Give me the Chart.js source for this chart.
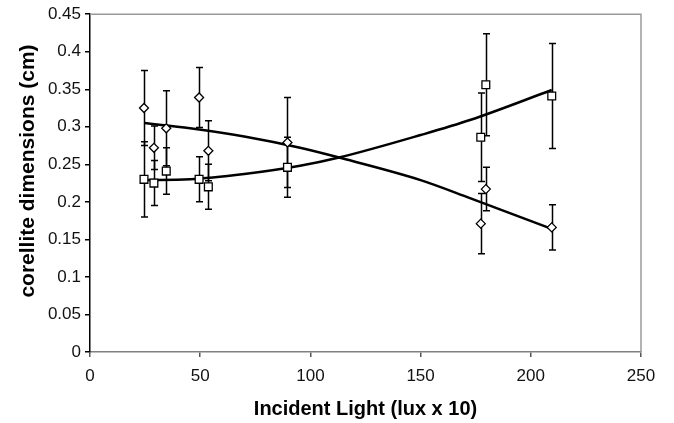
<!DOCTYPE html>
<html>
<head>
<meta charset="utf-8">
<script src="https://cdn.jsdelivr.net/npm/chart.js@4"></script>
<style>
	html, body { margin: 0; background: #fff; }
	#wrap { width: 674px; height: 423px; }
</style>
</head>
<body>
<div id="wrap"><canvas id="chart"></canvas></div>
<script>
// Corellite dimensions against incident light, two measured series with
// error bars plus a fitted trendline for each (values read off the figure).

const lightX = [24.5, 29, 34.6, 49.5, 53.7, 89.6, 177.3, 179.6, 209.5];

const diamondY = [0.325, 0.272, 0.298, 0.339, 0.268, 0.279, 0.171, 0.217, 0.166];
const diamondErr = [0.05, 0.029, 0.05, 0.04, 0.04, 0.06, 0.04, 0.029, 0.03];

const squareY = [0.230, 0.225, 0.241, 0.230, 0.220, 0.246, 0.286, 0.356, 0.341];
const squareErr = [0.05, 0.03, 0.031, 0.03, 0.03, 0.04, 0.059, 0.068, 0.07];

// Trendlines as drawn in the figure, sampled along their length.
const trendX = [24.5, 45.4, 70, 95.3, 113, 150, 172.4, 209.5];
const trendDown = [0.305, 0.298, 0.287, 0.272, 0.259, 0.229, 0.205, 0.164];
const trendUp = [0.229, 0.230, 0.237, 0.248, 0.259, 0.289, 0.309, 0.349];

const xTickLabels = ['0', '50', '100', '150', '200', '250'];
const yTickLabels = ['0', '0.05', '0.1', '0.15', '0.2', '0.25', '0.3', '0.35', '0.4', '0.45'];

const xTitle = 'Incident Light (lux x 10)';
const yTitle = 'corellite dimensions (cm)';

const FONT = "'Liberation Sans', Arial, sans-serif";

const toPoints = (xs, ys) => xs.map((x, i) => ({ x, y: ys[i] }));

// Vertical error bars with caps, drawn under the markers.
const errorBars = {
	id: 'errorBars',
	beforeDatasetsDraw(chart) {
		const { ctx, scales } = chart;
		ctx.save();
		ctx.strokeStyle = '#000';
		ctx.lineWidth = 1.5;
		for (const ds of chart.data.datasets) {
			if (!ds.errors) {
				continue;
			}
			ds.data.forEach((p, i) => {
				const px = Math.round(scales.x.getPixelForValue(p.x)) + 0.5;
				const top = scales.y.getPixelForValue(p.y + ds.errors[i]);
				const bot = scales.y.getPixelForValue(p.y - ds.errors[i]);
				ctx.beginPath();
				ctx.moveTo(px, top);
				ctx.lineTo(px, bot);
				ctx.moveTo(px - 3.5, top);
				ctx.lineTo(px + 3.5, top);
				ctx.moveTo(px - 3.5, bot);
				ctx.lineTo(px + 3.5, bot);
				ctx.stroke();
			});
		}
		ctx.restore();
	},
};

// Grey plot-area border on the top and right sides.
const plotFrame = {
	id: 'plotFrame',
	beforeDatasetsDraw(chart) {
		const { ctx, chartArea: a } = chart;
		ctx.save();
		ctx.strokeStyle = '#9a9a9a';
		ctx.lineWidth = 1.5;
		ctx.beginPath();
		ctx.moveTo(a.left, a.top);
		ctx.lineTo(a.right, a.top);
		ctx.lineTo(a.right, a.bottom);
		ctx.stroke();
		ctx.restore();
	},
};

// Axis titles, placed against the plot area.
const axisTitles = {
	id: 'axisTitles',
	afterDraw(chart) {
		const { ctx, chartArea: a } = chart;
		ctx.save();
		ctx.fillStyle = '#000';
		ctx.textAlign = 'center';
		ctx.textBaseline = 'middle';
		ctx.font = `bold 20px ${FONT}`;
		ctx.fillText(xTitle, (a.left + a.right) / 2, a.bottom + 57);
		ctx.font = `bold 21px ${FONT}`;
		ctx.translate(28, 171);
		ctx.rotate(-Math.PI / 2);
		ctx.fillText(yTitle, 0, 0);
		ctx.restore();
	},
};

new Chart(document.getElementById('chart'), {
	type: 'scatter',
	data: {
		datasets: [
			{
				label: 'diamonds',
				data: toPoints(lightX, diamondY),
				errors: diamondErr,
				pointStyle: 'rectRot',
				pointRadius: 4.5,
				borderWidth: 1.3,
				borderColor: '#000',
				backgroundColor: '#fff',
				order: 0,
			},
			{
				label: 'squares',
				data: toPoints(lightX, squareY),
				errors: squareErr,
				pointStyle: 'rect',
				pointRadius: 5.5,
				borderWidth: 1.3,
				borderColor: '#000',
				backgroundColor: '#fff',
				order: 0,
			},
			{
				label: 'trend down',
				data: toPoints(trendX, trendDown),
				showLine: true,
				pointRadius: 0,
				borderColor: '#000',
				borderWidth: 2.5,
				cubicInterpolationMode: 'monotone',
				order: 1,
			},
			{
				label: 'trend up',
				data: toPoints(trendX, trendUp),
				showLine: true,
				pointRadius: 0,
				borderColor: '#000',
				borderWidth: 2.5,
				cubicInterpolationMode: 'monotone',
				order: 1,
			},
		],
	},
	options: {
		responsive: true,
		maintainAspectRatio: false,
		animation: false,
		devicePixelRatio: 1,
		layout: { padding: { top: 14, right: 33, left: 0, bottom: 0 } },
		plugins: {
			legend: { display: false },
			tooltip: { enabled: false },
		},
		scales: {
			x: {
				type: 'linear',
				min: 0,
				max: 250,
				afterFit: (scale) => { scale.height = 71; },
				grid: { drawOnChartArea: false, drawTicks: true, tickLength: 5, tickColor: '#555', lineWidth: 1.5 },
				border: { color: '#808080', width: 1.5 },
				ticks: {
					stepSize: 50,
					padding: 9,
					color: '#111',
					font: { family: FONT, size: 17 },
					callback: (v, i) => xTickLabels[i],
				},
			},
			y: {
				type: 'linear',
				min: 0,
				max: 0.45,
				afterFit: (scale) => { scale.width = 90; },
				grid: { drawOnChartArea: false, drawTicks: true, tickLength: 5, tickColor: '#000', lineWidth: 1.5 },
				border: { color: '#000', width: 1.5 },
				ticks: {
					stepSize: 0.05,
					padding: 4,
					color: '#111',
					font: { family: FONT, size: 17 },
					callback: (v, i) => yTickLabels[i],
				},
			},
		},
	},
	plugins: [errorBars, plotFrame, axisTitles],
});
</script>
</body>
</html>
